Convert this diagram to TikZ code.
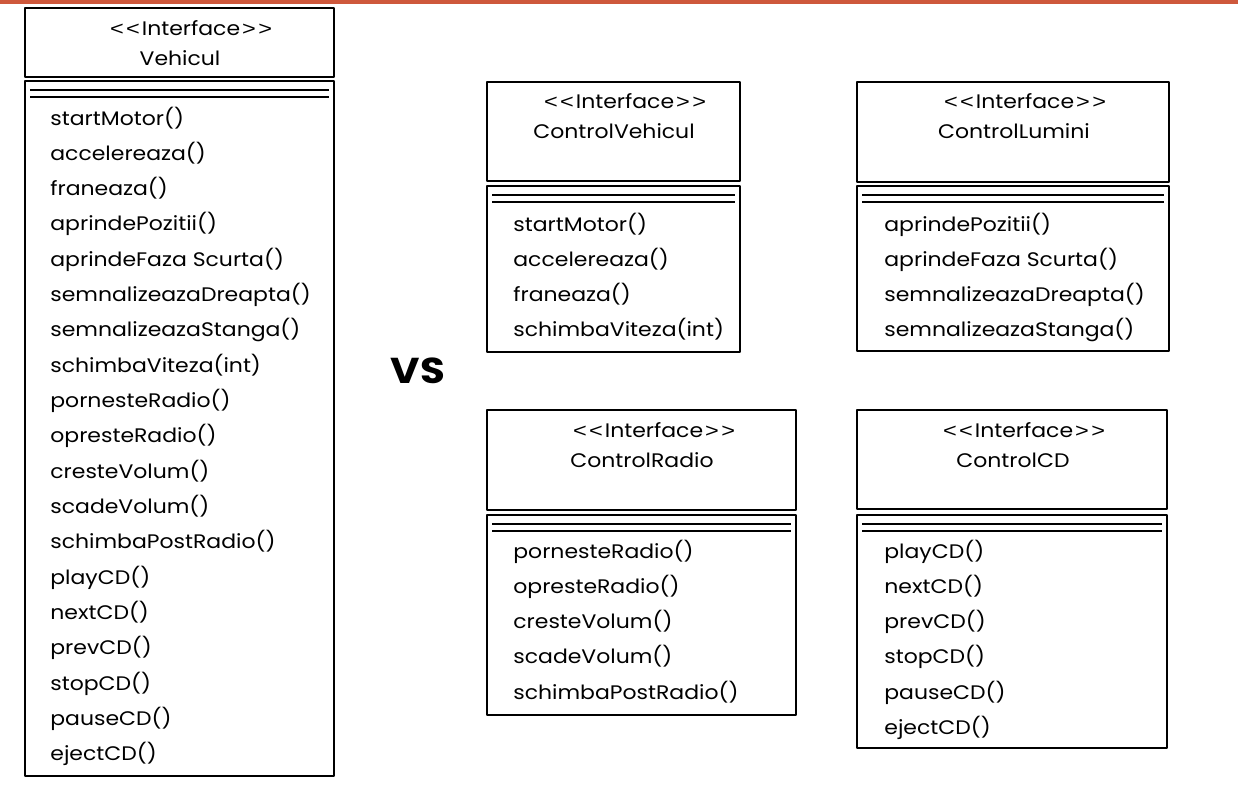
\documentclass[tikz,border=0pt]{standalone}
\usepackage{fontspec}
\setmainfont[FakeStretch=1.12]{Poppins}
\newfontfamily\anglefont[FakeStretch=1.2]{Liberation Sans}
\definecolor{topbar}{RGB}{206,88,60}
% one interface box: name, left, right, header top, header bottom, body top, body bottom
\newcommand{\ifacebox}[7]{%
  \draw[frame] (#2,#4) rectangle (#3,#5);
  \draw[frame] (#2,#6) rectangle (#3,#7);
  \draw[sep] ({#2+5},{#6+9}) -- ({#3-5},{#6+9});
  \draw[sep] ({#2+5},{#6+16}) -- ({#3-5},{#6+16});
}
\newcommand{\stereo}{{\anglefont<\hspace{1.2pt}<}\hspace{1pt}Interface\hspace{1pt}{\anglefont>\hspace{1.2pt}>}}
\begin{document}
\begin{tikzpicture}[x=0.5pt,y=-0.5pt,
  frame/.style={draw=black, line width=1.3pt, line join=round},
  sep/.style={draw=black, line width=0.8pt},
  member/.style={anchor=base west, inner sep=0pt, font=\fontsize{9.8}{11}\selectfont},
  title/.style={anchor=base, inner sep=0pt, font=\fontsize{9.8}{11}\selectfont},
  versus/.style={anchor=base, inner sep=0pt, font=\fontsize{18}{20}\selectfont\bfseries},
]
\useasboundingbox (0,0) rectangle (1238,788);
\fill[topbar] (0,0) rectangle (1238,3.5);

% Vehicul
\ifacebox{veh}{25}{334}{8}{77}{81}{776}
\node[title] (vehS) at (191,35) {\stereo};
\node[title] (vehN) at (180,65) {Vehicul};
\foreach \m [count=\i from 0] in {startMotor(),accelereaza(),franeaza(),aprindePozitii(),aprindeFaza Scurta(),semnalizeazaDreapta(),semnalizeazaStanga(),schimbaViteza(int),pornesteRadio(),opresteRadio(),cresteVolum(),scadeVolum(),schimbaPostRadio(),playCD(),nextCD(),prevCD(),stopCD(),pauseCD(),ejectCD()}
  \node[member] (veh\i) at (50,{125+35.33*\i}) {\m};

% VS
\node[versus] (vs) at (418,383) {VS};

% ControlVehicul
\ifacebox{cv}{487}{740}{82}{181}{186}{352}
\node[title] (cvS) at (625,108) {\stereo};
\node[title] (cvN) at (614,138) {ControlVehicul};
\foreach \m [count=\i from 0] in {startMotor(),accelereaza(),franeaza(),schimbaViteza(int)}
  \node[member] (cv\i) at (513,{231+35.33*\i}) {\m};

% ControlLumini
\ifacebox{cl}{857}{1169}{82}{182}{186}{351}
\node[title] (clS) at (1025,108) {\stereo};
\node[title] (clN) at (1014,138) {ControlLumini};
\foreach \m [count=\i from 0] in {aprindePozitii(),aprindeFaza Scurta(),semnalizeazaDreapta(),semnalizeazaStanga()}
  \node[member] (cl\i) at (884,{231+35.33*\i}) {\m};

% ControlRadio
\ifacebox{cr}{487}{796}{410}{510}{515}{715}
\node[title] (crS) at (654,437) {\stereo};
\node[title] (crN) at (642,467) {ControlRadio};
\foreach \m [count=\i from 0] in {pornesteRadio(),opresteRadio(),cresteVolum(),scadeVolum(),schimbaPostRadio()}
  \node[member] (cr\i) at (513,{558+35.33*\i}) {\m};

% ControlCD
\ifacebox{cd}{857}{1167}{410}{509}{515}{748}
\node[title] (cdS) at (1024,437) {\stereo};
\node[title] (cdN) at (1013,467) {ControlCD};
\foreach \m [count=\i from 0] in {playCD(),nextCD(),prevCD(),stopCD(),pauseCD(),ejectCD()}
  \node[member] (cd\i) at (884,{558+35.33*\i}) {\m};
\end{tikzpicture}
\end{document}
